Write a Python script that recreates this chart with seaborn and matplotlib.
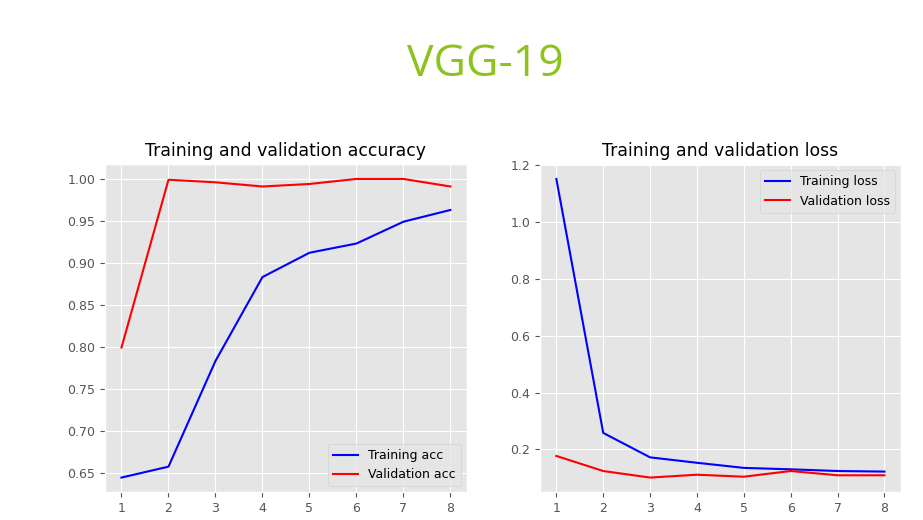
import pandas as pd
import matplotlib.pyplot as plt
import seaborn as sns

epochs = [1, 2, 3, 4, 5, 6, 7, 8]
train_acc = [0.644, 0.657, 0.783, 0.883, 0.912, 0.923, 0.949, 0.963]
val_acc = [0.799, 0.999, 0.996, 0.991, 0.994, 1.000, 1.000, 0.991]
train_loss = [1.151, 0.258, 0.172, 0.153, 0.135, 0.130, 0.124, 0.122]
val_loss = [0.177, 0.124, 0.101, 0.111, 0.104, 0.124, 0.109, 0.109]

plt.style.use('ggplot')

acc = pd.DataFrame({'epoch': epochs, 'Training acc': train_acc, 'Validation acc': val_acc})
loss = pd.DataFrame({'epoch': epochs, 'Training loss': train_loss, 'Validation loss': val_loss})

fig = plt.figure(figsize=(9.23, 5.2), dpi=100)
fig.patch.set_facecolor('white')
ax1 = fig.add_axes([0.1138, 0.0529, 0.392, 0.6317])
ax2 = fig.add_axes([0.585, 0.0529, 0.391, 0.6317])

sns.lineplot(x='epoch', y='Training acc', data=acc, color='blue', label='Training acc', ax=ax1)
sns.lineplot(x='epoch', y='Validation acc', data=acc, color='red', label='Validation acc', ax=ax1)
ax1.set_title('Training and validation accuracy', fontsize=12.4)
ax1.legend(loc='lower right', fontsize=9)

sns.lineplot(x='epoch', y='Training loss', data=loss, color='blue', label='Training loss', ax=ax2)
sns.lineplot(x='epoch', y='Validation loss', data=loss, color='red', label='Validation loss', ax=ax2)
ax2.set_title('Training and validation loss', fontsize=12.4)
ax2.legend(loc='upper right', fontsize=9)

for ax in (ax1, ax2):
    ax.set_xlabel('')
    ax.set_ylabel('')
    ax.set_xticks(epochs)
    ax.tick_params(labelsize=9)

fig.text(0.526, 0.875, 'VGG-19', color='#8DC21F', fontsize=32,
         ha='center', va='center', family='Open Sans')

fig.savefig('out.png', dpi=100)
